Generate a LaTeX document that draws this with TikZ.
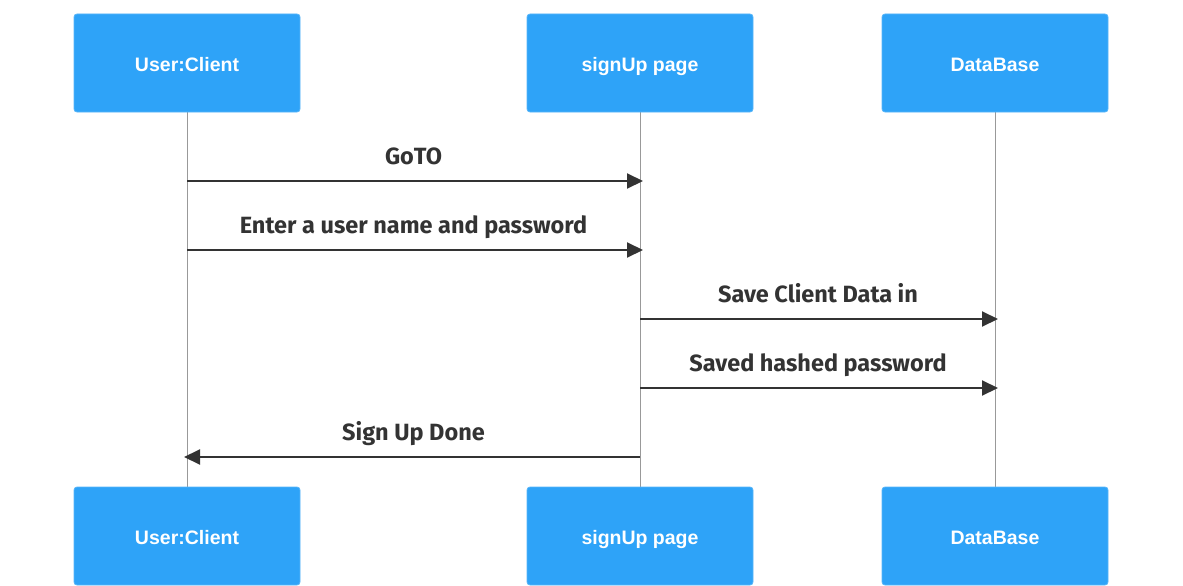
\documentclass[tikz,border=0pt]{standalone}
\usepackage{fontspec}
\setmainfont{Liberation Sans}
\newfontfamily\msgfont{Fira Sans}
\usetikzlibrary{arrows.meta}
\definecolor{actorblue}{HTML}{2EA3F8}
\definecolor{msgdark}{HTML}{333333}
\definecolor{lifegray}{HTML}{999999}
\tikzset{
  actor/.style={fill=actorblue, draw=actorblue!80!white, line width=0.8pt, rounded corners=3pt,
    minimum width=226pt, minimum height=98pt, text height=17pt, text depth=0pt,
    text=white, font=\fontsize{19.5}{22}\selectfont\bfseries},
  lifeline/.style={draw=lifegray, line width=1pt},
  msg/.style={draw=msgdark, line width=2pt, -{Triangle[length=16pt,width=15pt]}},
  msglabel/.style={text=msgdark, text height=17pt, text depth=5pt,
    font=\msgfont\fontsize{23.5}{27}\selectfont\bfseries}
}
\begin{document}
\begin{tikzpicture}[x=1pt,y=-1pt]
\useasboundingbox (0,0) rectangle (1183,586);
% lifelines first, boxes on top
\draw[lifeline] (187,112)--(187,487);
\draw[lifeline] (640,112)--(640,487);
\draw[lifeline] (995,112)--(995,487);
% actors top
\node[actor] (uc) at (187,63) {User:Client};
\node[actor] (sp) at (640,63) {signUp page};
\node[actor] (db) at (995,63) {DataBase};
% actors bottom
\node[actor] (ucb) at (187,536) {User:Client};
\node[actor] (spb) at (640,536) {signUp page};
\node[actor] (dbb) at (995,536) {DataBase};
% message anchors
\coordinate (uc1) at (187,181); \coordinate (sp1) at (643,181);
\coordinate (uc2) at (187,250); \coordinate (sp2) at (643,250);
\coordinate (sp3) at (640,319); \coordinate (db3) at (998,319);
\coordinate (sp4) at (640,388); \coordinate (db4) at (998,388);
\coordinate (sp5) at (640,457); \coordinate (uc5) at (184,457);
% messages
\draw[msg] (uc1)--(sp1);
\node[msglabel] (l1) at (413.5,158) {GoTO};
\draw[msg] (uc2)--(sp2);
\node[msglabel] (l2) at (413.5,227) {Enter a user name and password};
\draw[msg] (sp3)--(db3);
\node[msglabel] (l3) at (818,296) {Save Client Data in};
\draw[msg] (sp4)--(db4);
\node[msglabel] (l4) at (818,365) {Saved hashed password};
\draw[msg] (sp5)--(uc5);
\node[msglabel] (l5) at (413.5,434) {Sign Up Done};
\end{tikzpicture}
\end{document}
